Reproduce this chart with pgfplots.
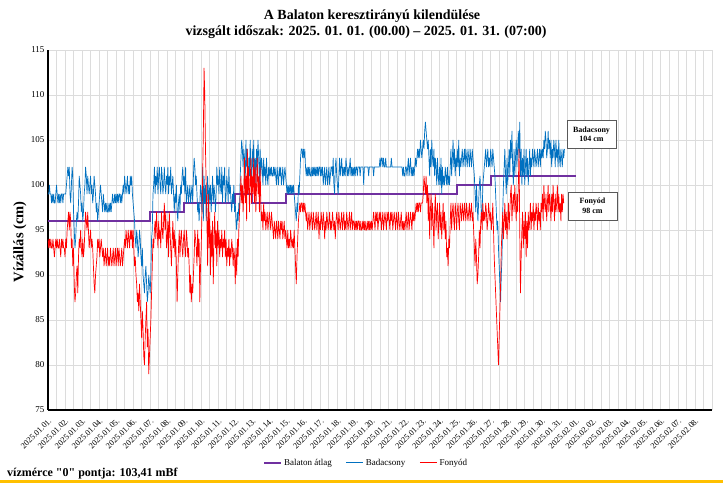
\documentclass[border=0pt]{standalone}
\usepackage{fontspec}
\setmainfont{Liberation Serif}
\newfontfamily\plainserif{Liberation Serif}[Ligatures=TeXOff]
\usepackage{pgfplots}
\pgfplotsset{compat=1.18}
\usepackage{pgfplotstable}
\definecolor{bada}{HTML}{0070C0}
\definecolor{fony}{HTML}{FF0000}
\definecolor{balat}{HTML}{7030A0}
\definecolor{gridc}{HTML}{DCDCDC}
\definecolor{yel}{HTML}{FFC000}
\definecolor{boxc}{HTML}{595959}

\pgfplotstableread[header=false,row sep=\\]{
99\\99\\100\\99\\99\\98\\99\\98\\99\\98\\98\\99\\100\\99\\98\\99\\98\\99\\98\\99\\99\\98\\99\\99\\
99\\99\\100\\101\\102\\101\\102\\99\\98\\100\\102\\101\\97\\95\\93\\94\\96\\97\\96\\98\\101\\100\\99\\97\\
98\\96\\97\\99\\100\\102\\101\\99\\101\\100\\99\\100\\101\\99\\100\\98\\99\\101\\100\\99\\97\\98\\96\\97\\
98\\99\\100\\99\\98\\97\\99\\98\\97\\98\\97\\98\\97\\97\\98\\97\\98\\97\\98\\99\\98\\98\\99\\98\\
99\\98\\99\\98\\99\\99\\98\\99\\98\\99\\100\\99\\101\\100\\99\\100\\101\\99\\100\\99\\101\\100\\101\\99\\
98\\97\\96\\94\\93\\95\\94\\92\\93\\95\\94\\92\\91\\93\\90\\89\\88\\90\\91\\89\\87\\88\\90\\89\\
88\\90\\94\\95\\99\\100\\102\\99\\101\\100\\102\\99\\101\\102\\100\\99\\102\\101\\99\\100\\102\\100\\99\\101\\
100\\102\\99\\101\\100\\102\\99\\100\\101\\99\\97\\99\\98\\100\\97\\96\\98\\99\\97\\100\\99\\101\\102\\100\\
101\\99\\102\\98\\99\\100\\98\\99\\100\\98\\99\\100\\98\\101\\103\\102\\100\\101\\99\\97\\98\\96\\98\\100\\
99\\97\\102\\96\\101\\98\\100\\96\\99\\101\\97\\100\\98\\100\\97\\99\\101\\98\\100\\99\\97\\99\\102\\100\\
101\\99\\102\\100\\99\\102\\98\\101\\100\\102\\98\\99\\101\\100\\98\\102\\99\\100\\98\\97\\99\\98\\100\\97\\
98\\96\\95\\97\\96\\98\\97\\101\\103\\105\\104\\102\\104\\103\\100\\105\\102\\104\\99\\103\\101\\105\\102\\100\\
104\\102\\105\\101\\103\\100\\104\\102\\105\\103\\100\\104\\101\\103\\102\\100\\103\\101\\102\\100\\103\\101\\100\\102\\
101\\102\\101\\102\\101\\101\\102\\101\\102\\101\\100\\102\\101\\100\\102\\101\\102\\100\\101\\102\\100\\101\\102\\101\\
100\\99\\100\\99\\100\\99\\100\\99\\100\\99\\100\\99\\98\\97\\96\\98\\97\\100\\99\\101\\103\\104\\104\\103\\
104\\103\\104\\102\\101\\102\\101\\102\\101\\102\\101\\101\\102\\101\\102\\101\\102\\101\\102\\101\\102\\101\\102\\102\\
101\\102\\101\\102\\100\\101\\102\\100\\101\\102\\100\\101\\102\\100\\101\\102\\102\\101\\103\\100\\99\\102\\103\\101\\
100\\99\\101\\103\\101\\102\\103\\101\\102\\101\\102\\101\\103\\102\\101\\102\\101\\102\\103\\101\\102\\101\\102\\101\\
102\\101\\102\\102\\101\\102\\102\\102\\101\\102\\102\\102\\102\\100\\102\\102\\102\\102\\102\\102\\101\\102\\102\\102\\
102\\102\\102\\101\\102\\102\\102\\102\\102\\102\\102\\102\\103\\102\\103\\103\\102\\103\\102\\102\\103\\102\\102\\102\\
102\\102\\102\\102\\103\\102\\102\\102\\102\\102\\102\\102\\102\\102\\102\\102\\102\\102\\102\\102\\101\\102\\101\\101\\102\\
102\\101\\102\\103\\101\\102\\103\\101\\102\\101\\102\\101\\102\\103\\102\\103\\104\\103\\104\\103\\105\\104\\103\\104\\
105\\104\\106\\107\\106\\105\\104\\105\\103\\101\\104\\102\\105\\103\\102\\104\\101\\103\\102\\100\\103\\101\\100\\102\\
100\\103\\99\\102\\100\\101\\100\\102\\101\\100\\102\\100\\101\\100\\102\\104\\101\\103\\105\\102\\104\\101\\103\\102\\
104\\102\\105\\101\\103\\102\\103\\104\\102\\103\\104\\102\\104\\103\\102\\104\\103\\102\\104\\103\\102\\104\\103\\102\\
101\\99\\97\\100\\98\\96\\98\\100\\101\\99\\96\\97\\100\\101\\102\\103\\104\\102\\103\\104\\102\\103\\102\\104\\
103\\102\\104\\103\\102\\101\\99\\97\\95\\96\\93\\91\\89\\87\\90\\92\\97\\100\\102\\104\\101\\99\\103\\100\\
102\\104\\101\\105\\103\\106\\102\\100\\104\\101\\103\\105\\102\\104\\106\\103\\107\\101\\104\\100\\103\\101\\104\\100\\
102\\104\\101\\103\\100\\102\\104\\101\\103\\102\\104\\103\\102\\104\\103\\102\\103\\104\\102\\103\\104\\102\\104\\103\\
104\\103\\105\\104\\106\\105\\103\\104\\106\\104\\105\\103\\105\\102\\104\\103\\105\\104\\102\\105\\103\\104\\102\\105\\
103\\102\\104\\103\\102\\104\\103\\104\\
}\badtab

\pgfplotstableread[header=false,row sep=\\]{
94\\93\\94\\93\\94\\93\\93\\94\\93\\92\\93\\94\\93\\94\\93\\93\\94\\93\\92\\94\\93\\94\\93\\93\\
92\\94\\93\\95\\96\\97\\95\\97\\96\\93\\94\\91\\93\\89\\87\\88\\90\\91\\88\\92\\94\\93\\95\\93\\
92\\94\\92\\93\\95\\97\\96\\95\\97\\95\\93\\94\\95\\93\\94\\93\\91\\89\\88\\90\\91\\92\\94\\93\\
94\\92\\93\\94\\93\\92\\93\\91\\92\\93\\91\\92\\93\\91\\92\\91\\93\\92\\91\\92\\93\\91\\92\\93\\
91\\92\\93\\91\\93\\92\\91\\92\\93\\91\\92\\93\\94\\93\\95\\94\\93\\95\\94\\93\\95\\94\\95\\93\\
95\\93\\91\\92\\90\\89\\87\\88\\86\\89\\87\\85\\83\\86\\84\\81\\80\\83\\85\\87\\82\\84\\79\\81\\
83\\85\\88\\91\\94\\93\\95\\96\\94\\97\\95\\93\\96\\94\\95\\93\\97\\95\\94\\96\\98\\95\\97\\93\\
94\\96\\92\\97\\95\\93\\91\\94\\96\\93\\95\\92\\94\\91\\87\\90\\93\\95\\92\\94\\95\\93\\92\\94\\
95\\93\\92\\95\\94\\92\\93\\91\\88\\90\\87\\89\\88\\90\\92\\95\\94\\93\\91\\95\\92\\94\\87\\91\\
93\\97\\101\\106\\113\\110\\104\\100\\96\\91\\99\\93\\97\\90\\95\\92\\96\\89\\94\\97\\93\\95\\91\\96\\
93\\95\\92\\94\\93\\95\\92\\94\\93\\95\\92\\94\\91\\93\\92\\94\\91\\93\\92\\94\\93\\91\\93\\92\\
89\\93\\90\\94\\92\\95\\97\\99\\101\\98\\100\\97\\99\\103\\98\\101\\96\\104\\99\\102\\97\\100\\103\\98\\
101\\99\\103\\98\\102\\97\\100\\103\\99\\101\\97\\102\\98\\96\\97\\95\\98\\96\\97\\95\\96\\97\\95\\96\\
97\\96\\95\\97\\96\\95\\94\\96\\95\\94\\96\\95\\94\\96\\95\\94\\96\\95\\96\\94\\95\\96\\94\\95\\
94\\93\\95\\93\\94\\93\\95\\94\\93\\94\\93\\95\\93\\91\\89\\92\\94\\96\\97\\98\\97\\98\\98\\97\\
98\\97\\98\\97\\96\\97\\95\\96\\97\\95\\96\\97\\96\\95\\97\\96\\95\\96\\97\\95\\96\\97\\94\\96\\
95\\97\\96\\95\\97\\96\\94\\96\\95\\97\\96\\95\\96\\97\\95\\96\\95\\97\\96\\95\\96\\94\\96\\97\\
96\\95\\97\\96\\95\\96\\97\\95\\96\\97\\95\\96\\95\\97\\96\\95\\96\\97\\95\\96\\97\\95\\96\\96\\
95\\96\\95\\96\\95\\96\\96\\95\\96\\95\\95\\96\\95\\96\\95\\96\\95\\95\\96\\95\\96\\95\\96\\95\\
96\\95\\96\\97\\96\\95\\97\\96\\97\\95\\96\\97\\96\\97\\95\\96\\97\\95\\96\\97\\96\\95\\97\\96\\
97\\96\\95\\97\\96\\97\\95\\96\\97\\96\\95\\97\\96\\95\\97\\96\\95\\96\\97\\95\\96\\95\\96\\95\\
96\\97\\95\\96\\97\\95\\96\\97\\96\\95\\97\\96\\97\\96\\97\\98\\97\\98\\97\\98\\98\\97\\98\\98\\
98\\99\\101\\100\\99\\101\\98\\100\\96\\99\\94\\97\\99\\95\\98\\96\\93\\97\\99\\95\\97\\98\\94\\96\\
98\\95\\97\\94\\96\\98\\95\\97\\94\\96\\92\\93\\91\\94\\93\\96\\98\\95\\97\\98\\96\\95\\98\\97\\
95\\97\\98\\96\\95\\98\\97\\96\\98\\97\\96\\98\\97\\96\\98\\97\\96\\97\\98\\96\\97\\98\\96\\97\\
95\\93\\91\\94\\92\\89\\90\\92\\95\\93\\96\\97\\95\\98\\96\\97\\96\\98\\97\\95\\96\\98\\97\\96\\
97\\95\\96\\98\\95\\92\\90\\88\\86\\84\\82\\80\\83\\86\\89\\93\\95\\97\\94\\96\\98\\95\\97\\94\\
96\\98\\95\\97\\99\\100\\96\\98\\99\\97\\100\\98\\96\\99\\97\\100\\104\\95\\88\\92\\95\\97\\93\\96\\
94\\97\\92\\96\\93\\97\\95\\96\\98\\95\\97\\96\\98\\95\\97\\96\\98\\97\\95\\98\\96\\97\\95\\98\\
97\\99\\96\\100\\98\\97\\99\\96\\98\\100\\97\\99\\98\\96\\99\\97\\100\\98\\96\\99\\97\\98\\100\\97\\
99\\97\\98\\96\\99\\97\\99\\98\\
}\fontab

\begin{document}
\begin{tikzpicture}
\path[use as bounding box] (0pt,0pt) rectangle (723pt,483pt);
\fill[yel] (0pt,0pt) rectangle (723pt,3pt);
\node[font=\fontsize{14}{16}\selectfont\bfseries, anchor=base, inner sep=0pt] at (372pt,463pt) {A Balaton keresztirányú kilendülése};
\node[font=\fontsize{14}{16}\selectfont\bfseries, anchor=base, inner sep=0pt] at (366pt,447pt) {vizsgált időszak: 2025. 01. 01. (00.00) – 2025. 01. 31. (07:00)};
\node[font=\fontsize{14.5}{16}\selectfont\bfseries, rotate=90, inner sep=0pt] at (20pt,241pt) {Vízállás (cm)};
\node[font=\fontsize{12}{14}\selectfont\plainserif\bfseries, anchor=base west, inner sep=0pt] at (7pt,7pt) {vízmérce "0" pontja: 103,41 mBf};
\begin{axis}[
  at={(48pt,73pt)}, anchor=south west,
  scale only axis, width=664pt, height=360pt,
  xmin=0, xmax=39, ymin=75, ymax=115,
  axis x line*=bottom, axis y line*=left,
  axis line style={black, line width=1.6pt},
  xtick={0,...,39}, minor xtick={0.5,1.5,...,38.5},
  xticklabels={2025.01.01.,2025.01.02.,2025.01.03.,2025.01.04.,2025.01.05.,2025.01.06.,2025.01.07.,2025.01.08.,2025.01.09.,2025.01.10.,2025.01.11.,2025.01.12.,2025.01.13.,2025.01.14.,2025.01.15.,2025.01.16.,2025.01.17.,2025.01.18.,2025.01.19.,2025.01.20.,2025.01.21.,2025.01.22.,2025.01.23.,2025.01.24.,2025.01.25.,2025.01.26.,2025.01.27.,2025.01.28.,2025.01.29.,2025.01.30.,2025.01.31.,2025.02.01.,2025.02.02.,2025.02.03.,2025.02.04.,2025.02.05.,2025.02.06.,2025.02.07.,2025.02.08.,{}},
  ytick={75,80,...,115},
  xmajorgrids, xminorgrids, ymajorgrids,
  grid style={gridc, line width=0.9pt},
  minor grid style={gridc, line width=0.9pt},
  major tick length=0pt, minor tick length=0pt,
  xticklabel style={rotate=45, anchor=north east, font=\fontsize{8.3}{9}\selectfont, inner sep=1pt},
  xticklabel shift=6pt,
  yticklabel style={font=\fontsize{9}{10}\selectfont},
  /pgf/number format/assume math mode=true,
  legend style={at={(0.479,-0.147)}, anchor=center, legend columns=3, draw=none, fill=none,
    font=\fontsize{9}{10}\selectfont, /tikz/every even column/.append style={column sep=12pt}},
  legend cell align=left,
]
\addlegendimage{balat, line width=2pt}
\addlegendentry{Balaton átlag}
\addlegendimage{bada, line width=1pt}
\addlegendentry{Badacsony}
\addlegendimage{fony, line width=1pt}
\addlegendentry{Fonyód}
\addplot[const plot, balat, line width=2pt, forget plot] coordinates {(0,96) (6,97) (8,98) (11,99) (12,98) (14,99) (24,100) (26,101) (31,101)};
\addplot[bada, line width=0.7pt, forget plot] table[x expr=\coordindex/24, y index=0] {\badtab};
\addplot[fony, line width=0.7pt, forget plot] table[x expr=\coordindex/24, y index=0] {\fontab};
\end{axis}
\node[draw=boxc, line width=1pt, fill=white, align=center, font=\fontsize{8}{9.5}\selectfont\bfseries, minimum width=49pt, minimum height=28pt, inner sep=2pt] at (591.5pt,348.5pt) {Badacsony\\104 cm};
\node[draw=boxc, line width=1pt, fill=white, align=center, font=\fontsize{8}{9.5}\selectfont\bfseries, minimum width=49pt, minimum height=28pt, inner sep=2pt] at (592.5pt,277pt) {Fonyód\\98 cm};
\end{tikzpicture}
\end{document}
